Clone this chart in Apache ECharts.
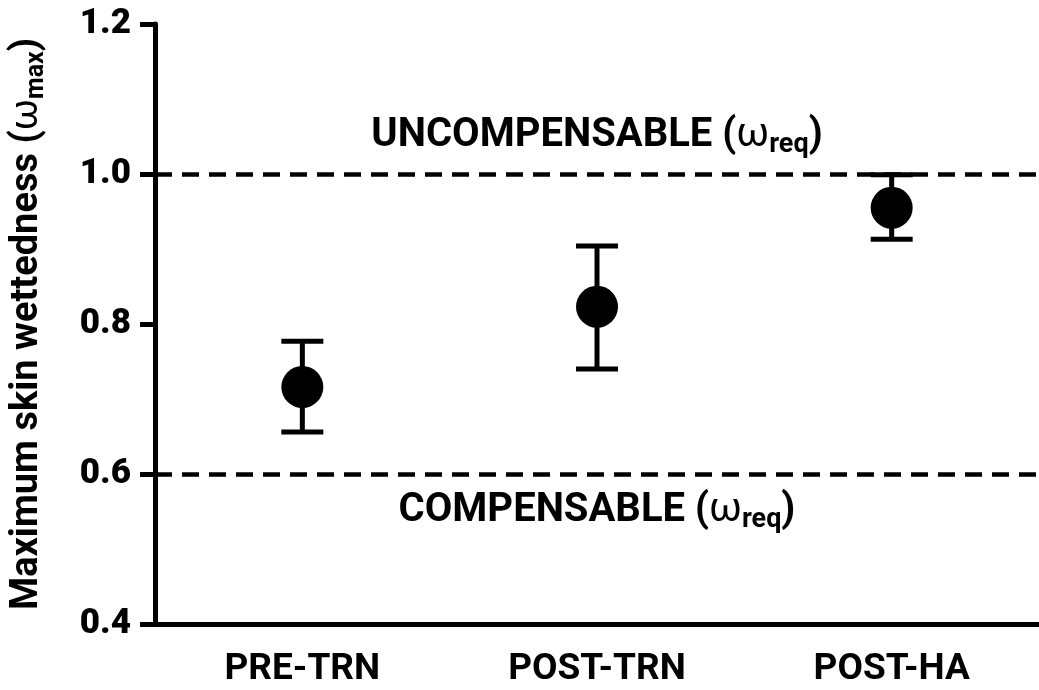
<!DOCTYPE html>
<html>
<head>
<meta charset="utf-8">
<script src="https://cdn.jsdelivr.net/npm/echarts@6/dist/echarts.min.js"></script>
<style>
  html, body { margin: 0; padding: 0; background: #ffffff; }
  #chart { width: 1039px; height: 690px; }
</style>
</head>
<body>
<div id="chart"></div>
<script>
// Maximum skin wettedness by test phase (mean with error bars)
const categories = ['PRE-TRN', 'POST-TRN', 'POST-HA'];
const meanValues = [0.716, 0.823, 0.955];
const errorLow = [0.656, 0.740, 0.913];
const errorHigh = [0.777, 0.904, 0.999];

// Reference thresholds for required skin wettedness
const uncompensableLevel = 1.0;
const compensableLevel = 0.6;

// Y axis scale
const yMin = 0.4;
const yMax = 1.2;
const yStep = 0.2;

const FONT = 'Roboto, "Liberation Sans", sans-serif';
const INK = '#000000';

const chart = echarts.init(document.getElementById('chart'), null, { renderer: 'canvas' });

const errorData = categories.map((c, i) => [i, errorLow[i], errorHigh[i]]);

// Vertical whisker with a horizontal cap at each end
function renderErrorBar(params, api) {
  const x = api.value(0);
  const lo = api.coord([x, api.value(1)]);
  const hi = api.coord([x, api.value(2)]);
  const half = 21;
  const style = { stroke: INK, lineWidth: 5, fill: null };
  return {
    type: 'group',
    children: [
      { type: 'line', shape: { x1: lo[0], y1: lo[1], x2: hi[0], y2: hi[1] }, style: style },
      { type: 'line', shape: { x1: hi[0] - half, y1: hi[1], x2: hi[0] + half, y2: hi[1] }, style: style },
      { type: 'line', shape: { x1: lo[0] - half, y1: lo[1], x2: lo[0] + half, y2: lo[1] }, style: style }
    ]
  };
}

// Main text, a lighter omega and a lowered subscript
const thresholdRich = {
  b: { fontFamily: FONT, fontWeight: 'bold', fontSize: 40, color: INK, lineHeight: 46 },
  w: { fontFamily: FONT, fontWeight: 'normal', fontSize: 40, color: INK, lineHeight: 46 },
  s: { fontFamily: FONT, fontWeight: 'bold', fontSize: 27, color: INK, verticalAlign: 'bottom', lineHeight: 20 }
};

const option = {
  animation: false,
  backgroundColor: '#ffffff',
  grid: { left: 151, top: 24, width: 897, height: 600, containLabel: false },
  xAxis: {
    type: 'category',
    data: categories,
    boundaryGap: true,
    axisLine: { lineStyle: { color: INK, width: 5 } },
    axisTick: { alignWithLabel: true, length: 16, lineStyle: { color: INK, width: 5 } },
    axisLabel: { color: INK, fontFamily: FONT, fontWeight: 'bold', fontSize: 37, margin: 27 },
    splitLine: { show: false }
  },
  yAxis: {
    type: 'value',
    min: yMin,
    max: yMax,
    interval: yStep,
    name: '{b|Maximum skin wettedness (}{w|ω}{s|max}{b|)}',
    nameLocation: 'middle',
    nameRotate: 90,
    nameGap: 106,
    nameTextStyle: {
      rich: {
        b: { fontFamily: FONT, fontWeight: 'bold', fontSize: 38, color: INK, lineHeight: 44 },
        w: { fontFamily: FONT, fontWeight: 'normal', fontSize: 38, color: INK, lineHeight: 44 },
        s: { fontFamily: FONT, fontWeight: 'bold', fontSize: 25, color: INK, verticalAlign: 'bottom', lineHeight: 20 }
      }
    },
    axisLine: { show: true, lineStyle: { color: INK, width: 5 } },
    axisTick: { show: true, length: 15, lineStyle: { color: INK, width: 5 } },
    axisLabel: {
      color: INK, fontFamily: FONT, fontWeight: 900, fontSize: 35, margin: 24,
      formatter: v => v.toFixed(1)
    },
    splitLine: { show: false }
  },
  series: [
    {
      type: 'custom',
      name: 'error',
      renderItem: renderErrorBar,
      data: errorData,
      encode: { x: 0, y: [1, 2] },
      z: 3,
      silent: true
    },
    {
      type: 'scatter',
      name: 'mean',
      data: meanValues,
      symbol: 'circle',
      symbolSize: 42,
      itemStyle: { color: INK, opacity: 1 },
      z: 4,
      silent: true,
      markLine: {
        silent: true,
        symbol: ['none', 'none'],
        z: 1,
        lineStyle: { color: INK, width: 4.5, type: [17, 10], opacity: 1 },
        data: [
          {
            yAxis: uncompensableLevel,
            label: {
              show: true,
              position: 'insideMiddleTop',
              distance: 15,
              formatter: '{b|UNCOMPENSABLE (}{w|ω}{s|req}{b|)}',
              rich: thresholdRich
            }
          },
          {
            yAxis: compensableLevel,
            label: {
              show: true,
              position: 'insideMiddleBottom',
              distance: 14,
              formatter: '{b|COMPENSABLE (}{w|ω}{s|req}{b|)}',
              rich: thresholdRich
            }
          }
        ]
      }
    }
  ]
};

chart.setOption(option);
</script>
</body>
</html>
